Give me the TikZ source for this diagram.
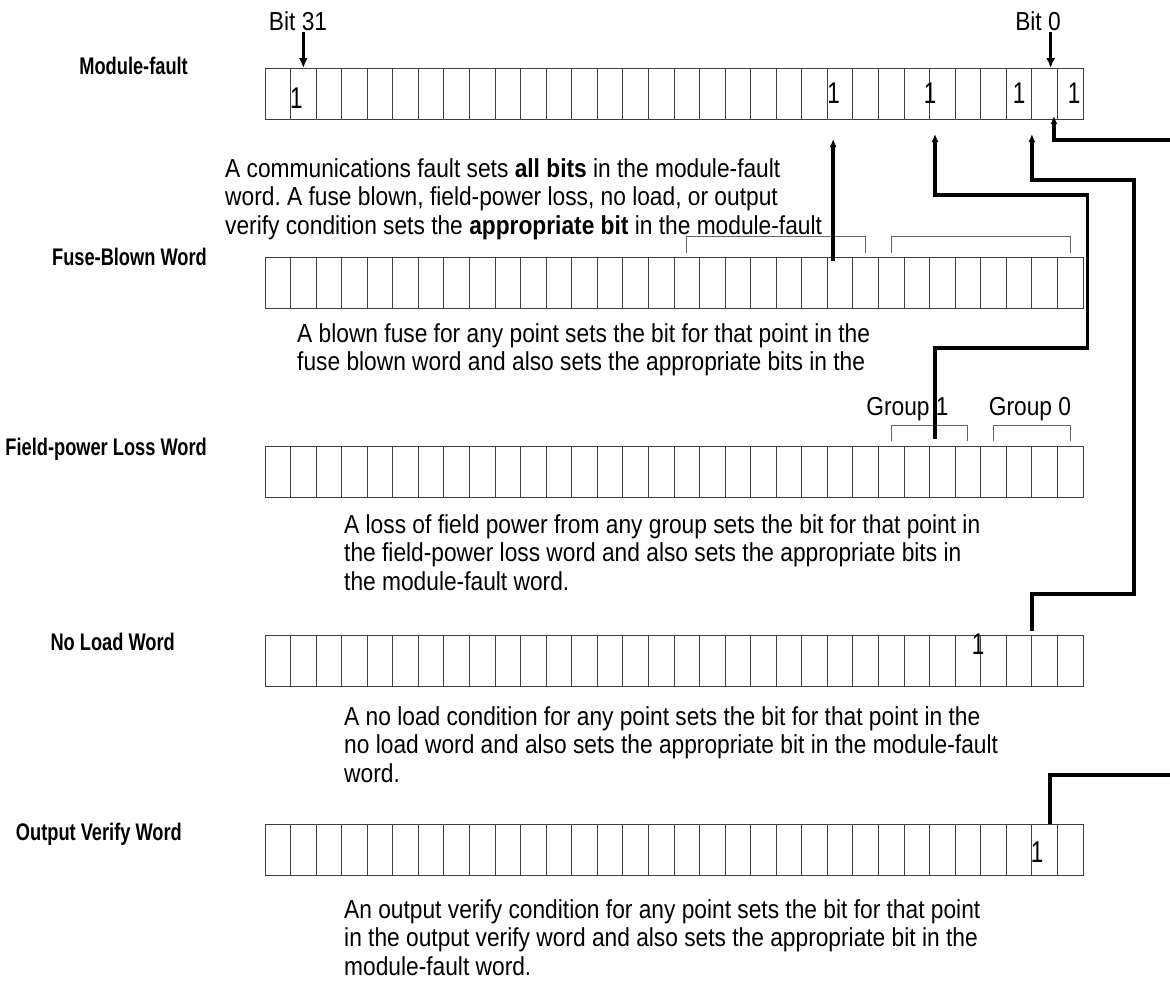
\documentclass[tikz,border=0pt]{standalone}
\usepackage{fontspec}
\setmainfont{Liberation Sans}[FakeStretch=0.875]
\newfontfamily\lblfont{Liberation Sans}[FakeStretch=0.76]
\newfontfamily\onefont{Liberation Sans}[FakeStretch=0.75]
\usetikzlibrary{arrows.meta}
\frenchspacing
\begin{document}
\begin{tikzpicture}[x=1pt,y=-1pt,
  cell/.style={draw=black!75,line width=1pt,minimum width=25.5625pt,minimum height=51pt,inner sep=0pt,outer sep=0pt},
  body/.style={font=\fontsize{26}{28.5}\selectfont,inner sep=0pt,align=left},
  bitlbl/.style={font=\fontsize{26}{28.5}\selectfont,inner sep=2pt},
  lbl/.style={font=\lblfont\bfseries\fontsize{24}{26}\selectfont,inner sep=0pt},
  one/.style={font=\onefont\fontsize{30}{30}\selectfont,inner sep=0pt},
  brk/.style={draw=black!60,line width=1pt},
  conn/.style={draw=black,line width=3.5pt},
  uarr/.style={conn,-{Latex[length=8pt,width=7pt]}},
  darr/.style={draw=black,line width=3pt,-{Latex[length=10pt,width=9pt]}}]
\useasboundingbox (0,0) rectangle (1170,983);

% cell rows
\foreach \n/\top in {mf/68,fb/257,fp/446,nl/635,ov/824}{
  \foreach \k in {0,...,31}{
    \node[cell] (\n\k) at ({265+25.5625*(\k+0.5)},{\top+25.5}) {};
  }
}

% row labels
\node[lbl,anchor=base east] (lmf) at (188,74) {Module-fault};
\node[lbl,anchor=base east] (lfb) at (207,265) {Fuse-Blown Word};
\node[lbl,anchor=base east] (lfp) at (207,455) {Field-power Loss Word};
\node[lbl,anchor=base east] (lnl) at (175,650) {No Load Word};
\node[lbl,anchor=base east] (lov) at (182,840) {Output Verify Word};

% bit labels
\node[bitlbl,anchor=base] (b31) at (298,30) {Bit 31};
\node[bitlbl,anchor=base] (b0) at (1038,30) {Bit 0};
\coordinate (t31) at (mf1.north);
\coordinate (t0) at ([xshift=6pt]mf30.north);
\draw[darr] (b31.south -| t31) -- (t31);
\draw[darr] (b0.south -| t0) -- (t0);

% ones
\node[one] (m1a) at (296.5,98) {1};
\node[one] (m1b) at (833.5,93) {1};
\node[one] (m1c) at (930,93) {1};
\node[one] (m1d) at (1019,93) {1};
\node[one] (m1e) at (1074,93) {1};
\node[one] (n1) at (978,644) {1};
\node[one] (o1) at (1037,852) {1};

% brackets
\draw[brk] ([yshift=4.3pt]fb16.north) -- ([yshift=20.3pt]fb16.north) -| ([yshift=4.3pt]fb23.north);
\draw[brk] ([yshift=4.3pt]fb24.north) -- ([yshift=20.3pt]fb24.north) -| ([yshift=4.3pt]fb31.north);
\draw[brk] ([yshift=5.3pt]fp24.north) -- ([yshift=21pt]fp24.north) -| ([yshift=5.3pt]fp27.north);
\draw[brk] ([yshift=5.3pt]fp28.north) -- ([yshift=21pt]fp28.north) -| ([yshift=5.3pt]fp31.north);
\node[bitlbl,anchor=base] (g1) at (907.5,415) {Group 1};
\node[bitlbl,anchor=base] (g0) at (1030,415) {Group 0};

% text blocks
\node[body,anchor=north west] (t1) at (225,158) {A communications fault sets \textbf{all bits} in the module-fault\\word. A fuse blown, field-power loss, no load, or output\\verify condition sets the \textbf{appropriate bit} in the module-fault};
\node[body,anchor=north west] (t2) at (297,323) {A blown fuse for any point sets the bit for that point in the\\fuse blown word and also sets the appropriate bits in the};
\node[body,anchor=north west] (t3) at (344,514) {A loss of field power from any group sets the bit for that point in\\the field-power loss word and also sets the appropriate bits in\\the module-fault word.};
\node[body,anchor=north west] (t4) at (344,706) {A no load condition for any point sets the bit for that point in the\\no load word and also sets the appropriate bit in the module-fault\\word.};
\node[body,anchor=north west] (t5) at (344,899) {An output verify condition for any point sets the bit for that point\\in the output verify word and also sets the appropriate bit in the\\module-fault word.};

% connectors
\coordinate (B1) at (1087.7,348);
\coordinate (B2) at (1087.7,195);
\coordinate (C1) at (1134,594);
\coordinate (C2) at (1134,180);
\coordinate (D0) at (1170,140);
\coordinate (E0) at (1170,775);
\draw[uarr] ([xshift=-7pt,yshift=-4pt]fb22.north) -- ([xshift=-7pt,yshift=-20pt]mf22.south);
\draw[uarr] ([xshift=-7.4pt,yshift=7pt]fp26.north) |- (B1) -- (B2) -| ([xshift=-7.4pt,yshift=-15pt]mf26.south);
\draw[uarr] ([yshift=4pt]nl29.north east) |- (C1) -- (C2) -| ([yshift=-15pt]mf29.south east);
\draw[uarr] (D0) -| ([xshift=9.3pt,yshift=3pt]mf30.south);
\draw[conn,line width=4pt] (E0) -| ([xshift=5.3pt]ov30.north);
\end{tikzpicture}
\end{document}
